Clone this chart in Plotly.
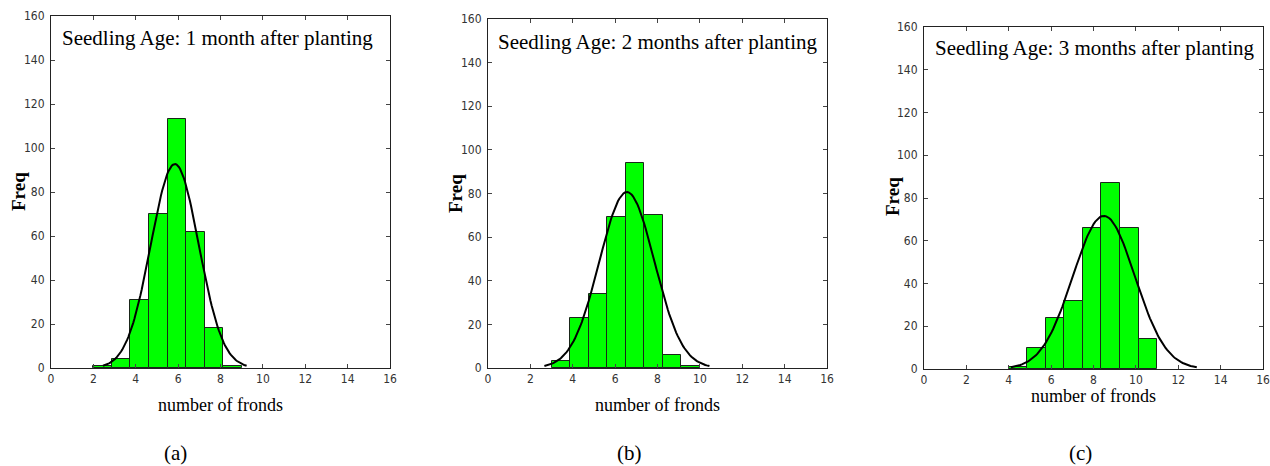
import numpy as np
import plotly.graph_objects as go

# ---- data ----
fronds_a = [2, 3, 4, 5, 6, 7, 8, 9]
counts_a = [1, 4, 31, 70, 113, 62, 18, 1]

fronds_b = [3, 4, 5, 6, 7, 8, 9, 10]
counts_b = [3, 23, 34, 69, 94, 70, 6, 1]

fronds_c = [4, 5, 6, 7, 8, 9, 10, 11]
counts_c = [1, 10, 24, 32, 66, 87, 66, 14]

titles = ["Seedling Age: 1 month after planting",
          "Seedling Age: 2 months after planting",
          "Seedling Age: 3 months after planting"]
captions = ["(a)", "(b)", "(c)"]
x_ticks = [0, 2, 4, 6, 8, 10, 12, 14, 16]
y_ticks = [0, 20, 40, 60, 80, 100, 120, 140, 160]

W, H = 1270, 466
# pixel layout of the three panels (left, right, top, bottom)
panels = [(51, 390, 16, 368), (488, 827, 19, 368), (924, 1263, 27, 369)]
title_pos = [(217, 38), (658, 42), (1095, 48)]
ylab_pos = [(18, 192), (455, 193), (892, 197)]
xlab_y = [405, 405, 396]
cap_pos = [(175, 453), (629, 453), (1080, 453)]

def px(x):
    return x / W

def py(y):
    return 1 - y / H

fig = go.Figure()
datasets = [(fronds_a, counts_a), (fronds_b, counts_b), (fronds_c, counts_c)]
tick_font = dict(family="Liberation Sans Narrow, Arial Narrow, DejaVu Sans Condensed, Liberation Sans, sans-serif",
                 size=12, color="#333333")
serif = "Liberation Serif, Times New Roman, serif"
annotations = []
for i, (vals, cnts) in enumerate(datasets):
    vals = np.array(vals, dtype=float)
    cnts = np.array(cnts, dtype=float)
    nb = len(vals)
    lo, hi = vals.min(), vals.max()
    bw = (hi - lo) / nb
    centers = lo + bw * (np.arange(nb) + 0.5)
    n = cnts.sum()
    mu = (vals * cnts).sum() / n
    sd = np.sqrt(((vals - mu) ** 2 * cnts).sum() / (n - 1))
    xs = np.linspace(mu - 3 * sd, mu + 3 * sd, 120)
    ys = n * bw * np.exp(-0.5 * ((xs - mu) / sd) ** 2) / (sd * np.sqrt(2 * np.pi))

    ax = "" if i == 0 else str(i + 1)
    fig.add_trace(go.Bar(x=centers, y=cnts, width=bw, xaxis="x" + ax, yaxis="y" + ax,
                         marker=dict(color="#00FF00", line=dict(color="#1a261a", width=1)),
                         showlegend=False))
    fig.add_trace(go.Scatter(x=xs, y=ys, mode="lines", xaxis="x" + ax, yaxis="y" + ax,
                             line=dict(color="black", width=2), showlegend=False))

    l, r, t, b = panels[i]
    common = dict(showgrid=False, zeroline=False, showline=True, linecolor="#222222",
                  linewidth=1, mirror="ticks", ticks="inside", ticklen=4,
                  tickcolor="#444444", tickfont=tick_font, automargin=False)
    fig.layout["xaxis" + ax] = dict(domain=[px(l), px(r)], range=[0, 16], tickvals=x_ticks,
                                    anchor="y" + ax, **common)
    fig.layout["yaxis" + ax] = dict(domain=[py(b), py(t)], range=[0, 160], tickvals=y_ticks,
                                    anchor="x" + ax, ticklabelstandoff=3, **common)

    tx, ty = title_pos[i]
    annotations.append(dict(text=titles[i], x=px(tx), y=py(ty), xref="paper", yref="paper",
                            showarrow=False, xanchor="center", yanchor="middle",
                            font=dict(family=serif, size=21, color="black")))
    lx, ly = ylab_pos[i]
    annotations.append(dict(text="<b>Freq</b>", x=px(lx), y=py(ly), xref="paper", yref="paper",
                            showarrow=False, xanchor="center", yanchor="middle", textangle=-90,
                            font=dict(family=serif, size=19, color="black")))
    annotations.append(dict(text="number of fronds", x=px((l + r) / 2), y=py(xlab_y[i]),
                            xref="paper", yref="paper", showarrow=False,
                            xanchor="center", yanchor="middle",
                            font=dict(family=serif, size=18, color="black")))
    cx, cy = cap_pos[i]
    annotations.append(dict(text=captions[i], x=px(cx), y=py(cy), xref="paper", yref="paper",
                            showarrow=False, xanchor="center", yanchor="middle",
                            font=dict(family=serif, size=21, color="black")))

fig.update_layout(width=W, height=H, margin=dict(l=0, r=0, t=0, b=0, autoexpand=False),
                  paper_bgcolor="white", plot_bgcolor="white", bargap=0,
                  annotations=annotations)
fig.write_html("out.html", config={"displayModeBar": False},
               post_script="document.body.style.margin='0px';document.body.style.overflow='hidden';")
